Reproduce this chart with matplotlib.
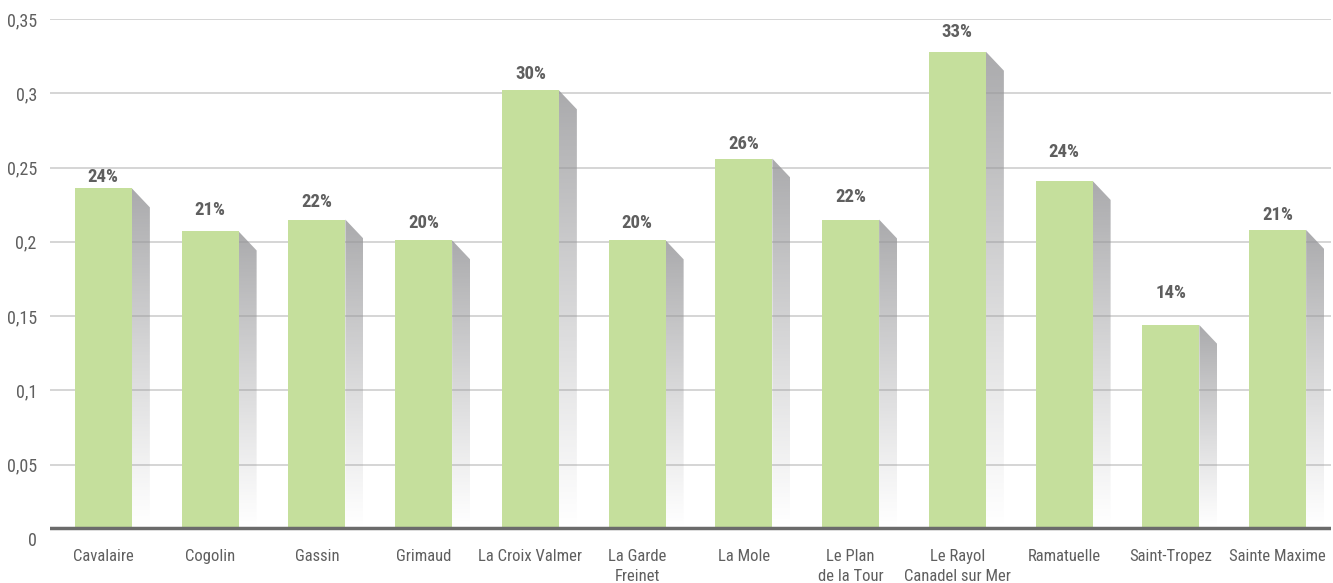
import matplotlib
matplotlib.use("Agg")
import matplotlib.pyplot as plt
from matplotlib.patches import Polygon
from matplotlib.ticker import FuncFormatter
import numpy as np

# ── data ────────────────────────────────────────────────────────────────────
communes = ["Cavalaire", "Cogolin", "Gassin", "Grimaud", "La Croix Valmer",
            "La Garde\nFreinet", "La Mole", "Le Plan\nde la Tour",
            "Le Rayol\nCanadel sur Mer", "Ramatuelle", "Saint-Tropez",
            "Sainte Maxime"]
values = [0.236, 0.207, 0.215, 0.201, 0.302, 0.201,
          0.256, 0.215, 0.328, 0.241, 0.144, 0.208]
labels = ["24%", "21%", "22%", "20%", "30%", "20%",
          "26%", "22%", "33%", "24%", "14%", "21%"]
yticks = [0, 0.05, 0.1, 0.15, 0.2, 0.25, 0.3, 0.35]

# label centre above bar top (pixels) – the source places them unevenly
label_off = [11, 21, 18, 17, 16, 17, 15, 23, 20, 29, 32, 15]

C_BAR = "#c5df9c"
C_TXT = "#5f5f5f"
C_GRID = "#d2d2d2"
C_BASE = "#6b6b6b"
FONT = ["Liberation Sans Narrow", "Roboto Condensed", "Liberation Sans", "DejaVu Sans"]

W, H = 1333, 583
fig = plt.figure(figsize=(W / 100, H / 100), dpi=100)
ax_l, ax_r, ax_b, ax_t = 50, 1331, 539, 19
ax = fig.add_axes([ax_l / W, (H - ax_b) / H, (ax_r - ax_l) / W, (ax_b - ax_t) / H])

n = len(communes)
x = np.arange(n)
ax.set_xlim(-0.5, n - 0.5)
ax.set_ylim(0, 0.35)

# pixel → data scale
px_x = n / (ax_r - ax_l)
px_y = 0.35 / (ax_b - ax_t)
floor = 11 * px_y          # visible baseline sits a little above zero

for t in yticks[1:]:
    ax.axhline(t, color=C_GRID, lw=1.3, zorder=0)

bw = 57 * px_x
sdx = 18 * px_x
sdy = 19 * px_y

g = np.linspace(0, 1, 256)
rgba = np.zeros((256, 1, 4))
rgba[:, 0, :3] = 0.59
rgba[:, 0, 2] = 0.60
rgba[:, 0, 3] = np.clip(0.81 * (1 - g) ** 1.1, 0, 1)

for xi, v in zip(x, values):
    left = xi - bw / 2
    xr = left + bw
    # shadow with vertical gradient
    poly = Polygon([(xr, v), (xr + sdx, v - sdy), (xr + sdx, floor), (xr, floor)],
                   closed=True, facecolor="none", edgecolor="none")
    ax.add_patch(poly)
    im = ax.imshow(rgba, extent=[xr, xr + sdx, floor, v], origin="upper",
                   aspect="auto", zorder=1, interpolation="bilinear")
    im.set_clip_path(poly)
    ax.bar(xi, v - floor, bottom=floor, width=bw, color=C_BAR, zorder=2)

for xi, v, lab, off in zip(x, values, labels, label_off):
    ax.annotate(lab, (xi, v), xytext=(0, off * 0.72), textcoords="offset points",
                ha="center", va="center", fontsize=13.5, fontweight="bold",
                color=C_TXT, family=FONT)

ax.axhline(floor, color=C_BASE, lw=2.5, zorder=3)

ax.set_aspect("auto")
ax.set_xticks(x)
ax.set_xticklabels(communes, fontsize=12, color=C_TXT, family=FONT, linespacing=1.4)
ax.set_yticks(yticks)
ax.yaxis.set_major_formatter(FuncFormatter(lambda v, p: f"{v:g}".replace(".", ",")))
for lab in ax.get_yticklabels():
    lab.set_family(FONT)
ax.tick_params(axis="y", length=0, pad=9.5, labelsize=13, labelcolor=C_TXT)
ax.tick_params(axis="x", length=0, pad=7)
for s in ax.spines.values():
    s.set_visible(False)

fig.savefig("out.png", dpi=100, facecolor="white")
